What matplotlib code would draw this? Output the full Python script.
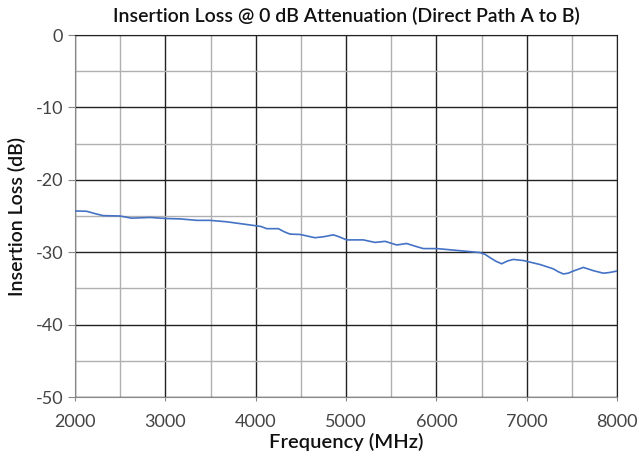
import matplotlib
matplotlib.use("Agg")
import matplotlib.pyplot as plt
from matplotlib.ticker import MultipleLocator

plt.rcParams['font.family'] = ['Lato', 'DejaVu Sans']
plt.rcParams['axes.unicode_minus'] = False

freq_mhz = [2000, 2130, 2230, 2313, 2498, 2627, 2830, 3015, 3162, 3347, 3494, 3679, 3827, 3974,
            4060, 4122, 4251, 4320, 4380, 4491, 4657, 4760, 4860, 4930, 5007, 5192, 5321, 5432,
            5561, 5671, 5760, 5856, 6004, 6225, 6483, 6540, 6594, 6660, 6723, 6790, 6852,
            6963, 7148, 7295, 7350, 7406, 7460, 7517, 7627, 7738, 7849, 7920, 8000]
loss_db = [-24.3, -24.35, -24.7, -24.95, -25.0, -25.3, -25.2, -25.35, -25.4, -25.6, -25.6,
           -25.8, -26.05, -26.3, -26.45, -26.75, -26.75, -27.2, -27.5, -27.55, -28.0, -27.85,
           -27.6, -27.9, -28.3, -28.3, -28.65, -28.5, -29.0, -28.8, -29.15, -29.5, -29.5,
           -29.75, -30.05, -30.3, -30.75, -31.25, -31.6, -31.2, -31.0, -31.15, -31.7, -32.3,
           -32.7, -33.0, -32.9, -32.6, -32.1, -32.55, -32.9, -32.8, -32.6]

title = "Insertion Loss @ 0 dB Attenuation (Direct Path A to B)"
xlabel = "Frequency (MHz)"
ylabel = "Insertion Loss (dB)"

fig = plt.figure(figsize=(6.39, 4.57), dpi=100)
ax = fig.add_axes([75/639, 1-397/457, 542/639, 362/457])

ax.plot(freq_mhz, loss_db, color="#4472C4", lw=1.2, zorder=3, solid_joinstyle='round')

ax.set_xlim(2000, 8000)
ax.set_ylim(-50, 0)
ax.xaxis.set_major_locator(MultipleLocator(1000))
ax.xaxis.set_minor_locator(MultipleLocator(500))
ax.yaxis.set_major_locator(MultipleLocator(10))
ax.yaxis.set_minor_locator(MultipleLocator(5))

ax.grid(which='major', color='#222222', lw=1.0)
ax.grid(which='minor', color='#b0b0b0', lw=1.0)
ax.set_axisbelow(True)

for s in ['top', 'right']:
    ax.spines[s].set_color('#222222')
for s in ['left', 'bottom']:
    ax.spines[s].set_color('#888888')

ax.tick_params(axis='both', which='major', labelsize=13, labelcolor='#444444',
               color='#888888', length=5)
ax.tick_params(axis='both', which='minor', length=0)
ax.tick_params(axis='x', length=3, pad=9)

ax.set_title(title, fontsize=14, fontweight='semibold', color='#111111', pad=9)
ax.set_xlabel(xlabel, fontsize=14.5, fontweight='semibold', color='#111111', labelpad=2)
ax.set_ylabel(ylabel, fontsize=14, fontweight='semibold', color='#111111', labelpad=7)

fig.savefig("out.png", dpi=100)
